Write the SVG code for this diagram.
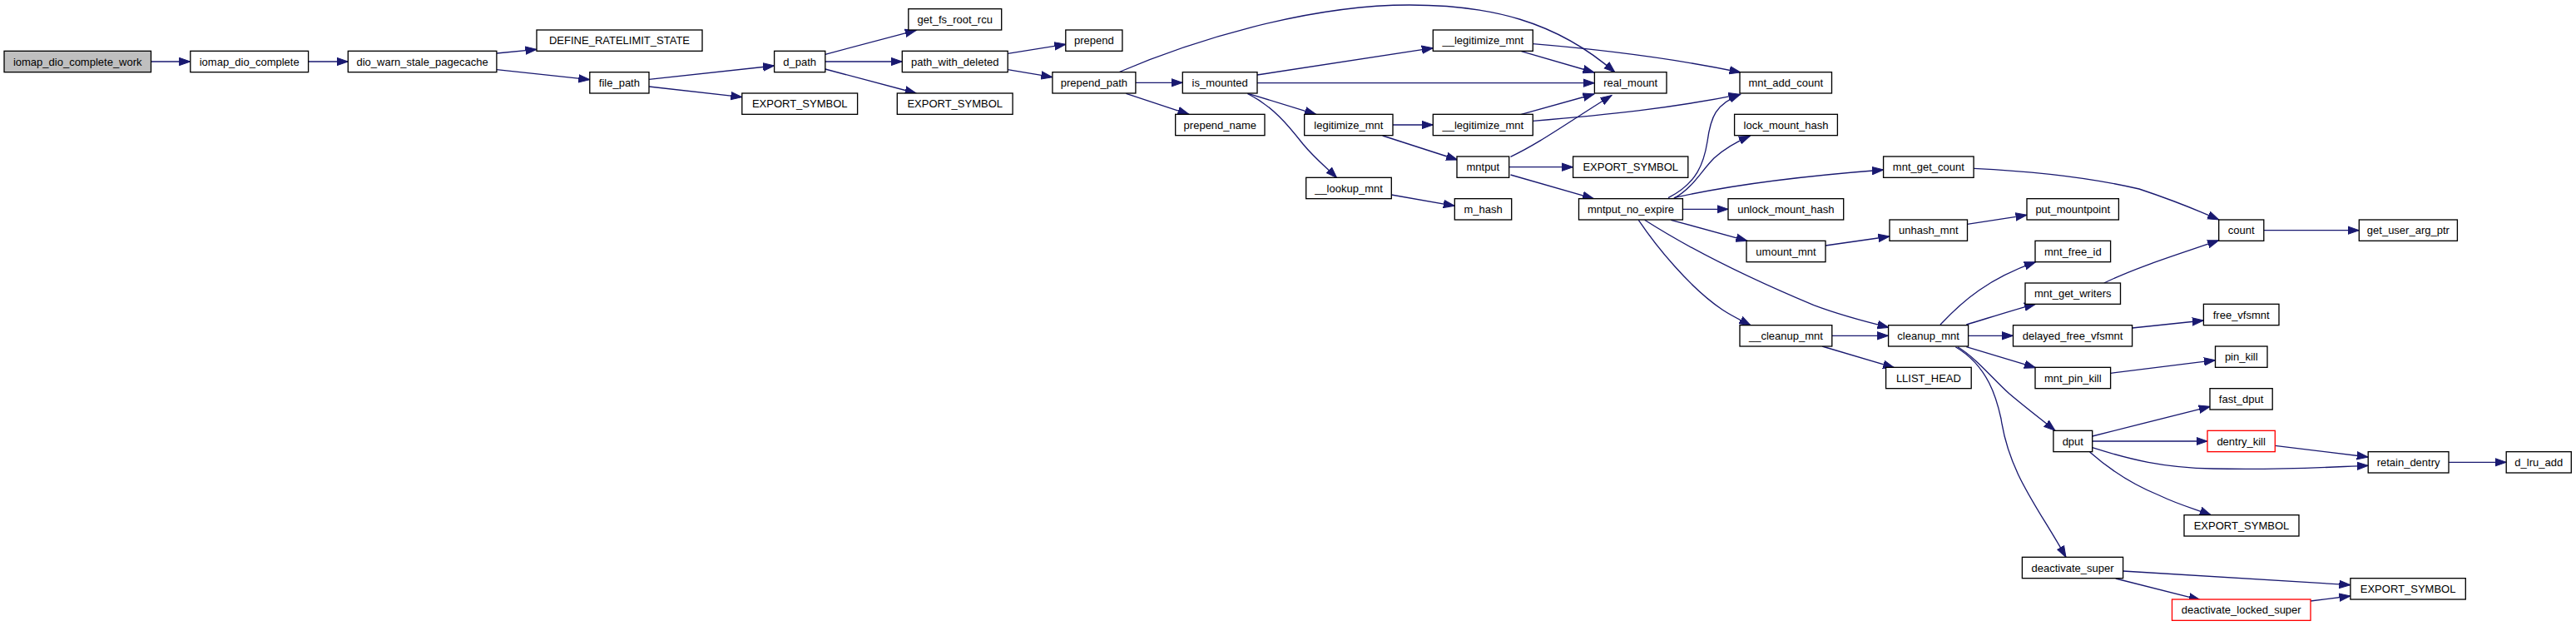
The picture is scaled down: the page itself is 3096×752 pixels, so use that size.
<svg xmlns="http://www.w3.org/2000/svg" width="3096" height="752" viewBox="0 0 3096 752">
<style>
.n rect{fill:#ffffff;stroke:#000000;stroke-width:1.33}
.n.root rect{fill:#bfbfbf}
.n.red rect{stroke:#ff0000}
.n text{font-family:"Liberation Sans",Arial,Helvetica,sans-serif;font-size:13px;fill:#000000;text-anchor:middle}
#edges path{fill:none;stroke:#191970;stroke-width:1.33;marker-end:url(#arr)}
</style>
<defs>
<marker id="arr" markerUnits="userSpaceOnUse" markerWidth="15" markerHeight="11" viewBox="0 0 15 11" refX="13.5" refY="5.5" orient="auto">
<path d="M0,0.8 L13.5,5.5 L0,10.2 z" fill="#191970" stroke="#191970" stroke-width="1"/>
</marker>
</defs>
<rect x="0" y="0" width="3096" height="752" fill="#ffffff"/>
<g id="edges">
<path d="M181.5,74 L228.8,74"/>
<path d="M370.6,74 L418.3,74"/>
<path d="M597,64 L645,59.3"/>
<path d="M597,83.7 L708.8,95.7"/>
<path d="M780,95.3 L930.6,79"/>
<path d="M780,104 L891.8,116.7"/>
<path d="M991.8,65.3 L1101.2,36.3"/>
<path d="M991.8,74 L1084.3,74"/>
<path d="M991.8,83 L1101.2,112"/>
<path d="M1211.2,64.3 L1280.8,53.3"/>
<path d="M1211.2,83.7 L1264.9,92.7"/>
<path d="M1364.9,99.3 L1421.3,99.3"/>
<path d="M1353.4,112.3 L1429,137.3"/>
<path d="M1344,87 C1430,50 1570,6 1694,6 C1790,6 1870,25 1941,87"/>
<path d="M1511,90 L1722.3,57.7"/>
<path d="M1511,99.7 L1916.4,99.7"/>
<path d="M1500,112.3 L1581.7,137.3"/>
<path d="M1499.3,112.3 C1530,128 1548,150 1566,173 C1580,190 1595,202 1606.7,213.7"/>
<path d="M1828.4,61.7 L1916,87"/>
<path d="M1842.3,52.7 C1930,60 2020,72 2092,87"/>
<path d="M1674,150 L1722.3,150"/>
<path d="M1661.7,163 L1751.7,192"/>
<path d="M1828.4,137.3 L1916,113"/>
<path d="M1842.3,145.3 C1930,138 2010,130 2091,113.3"/>
<path d="M1672.3,234 L1748.3,247.3"/>
<path d="M1815.5,188.3 C1850,172 1880,150 1937,114.5"/>
<path d="M1814,200.7 L1890.6,200.7"/>
<path d="M1815.5,210 L1915.4,238.7"/>
<path d="M2005,237.7 C2040,220 2048,195 2052,170 C2056,140 2062,125 2091.7,113.3"/>
<path d="M2013,237.7 C2035,225 2045,205 2060,190 C2075,176 2090,169 2103.3,163.3"/>
<path d="M2011.7,237.7 C2080,222 2160,212 2263.6,204"/>
<path d="M2022.4,251.3 L2077,251.3"/>
<path d="M2008.3,264.3 L2100,289.3"/>
<path d="M1969.3,264.3 C1990,295 2030,345 2070,372 C2082,380 2095,386 2104,390.7"/>
<path d="M1976.7,264.3 C2020,292 2080,325 2180,366.7 C2210,378 2240,386 2270,393.3"/>
<path d="M2194,295 L2271,284"/>
<path d="M2364.3,269.3 L2436,258.3"/>
<path d="M2372.1,202.3 C2450,206 2520,215 2571,227 C2610,240 2640,252 2666.7,264"/>
<path d="M2720.8,276.7 L2835.3,276.7"/>
<path d="M2528.8,340 C2570,320 2620,305 2666.7,288.7"/>
<path d="M2332,390 C2360,360 2390,335 2446.5,314.7"/>
<path d="M2363.3,390 C2390,382 2420,372 2446.5,365.3"/>
<path d="M2365.3,403.3 L2419.5,403.3"/>
<path d="M2562.6,394 L2648.4,385"/>
<path d="M2363.3,416.7 L2446.5,441.7"/>
<path d="M2536.6,448.3 L2662.5,432.7"/>
<path d="M2352.9,416.7 C2375,430 2395,455 2415,473 C2435,490 2455,505 2470,517.3"/>
<path d="M2350.3,416.7 C2390,440 2400,480 2405,503 C2415,570 2450,610 2483,669.3"/>
<path d="M2201.5,403.3 L2269.6,403.3"/>
<path d="M2190,416 L2276.7,441.7"/>
<path d="M2514.7,524 L2656.3,488.3"/>
<path d="M2514.7,530 L2653,530"/>
<path d="M2514.7,537.7 C2560,552 2600,562 2660,563 C2740,565 2800,561 2846.2,559.3"/>
<path d="M2734.3,535.3 L2846.2,549"/>
<path d="M2511.6,543 C2540,568 2570,585 2595,595 C2620,607 2640,612 2657.3,618.7"/>
<path d="M2943,555.3 L3012.2,555.3"/>
<path d="M2551.6,686 L2824.9,702.7"/>
<path d="M2542.8,695 L2644.3,720.7"/>
<path d="M2777,722 L2824.9,716"/>
</g>
<g id="n1" class="n root"><rect x="5" y="61.33" width="176.5" height="25.33"/><text x="93.25" y="78.6">iomap_dio_complete_work</text></g>
<g id="n2" class="n"><rect x="228.8" y="61.33" width="141.8" height="25.33"/><text x="299.7" y="78.6">iomap_dio_complete</text></g>
<g id="n3" class="n"><rect x="418.3" y="61.33" width="178.6" height="25.33"/><text x="507.6" y="78.6">dio_warn_stale_pagecache</text></g>
<g id="n4" class="n"><rect x="645" y="36" width="199" height="25.33"/><text x="744.5" y="53.3">DEFINE_RATELIMIT_STATE</text></g>
<g id="n5" class="n"><rect x="708.8" y="86.67" width="71.2" height="25.33"/><text x="744.4" y="104">file_path</text></g>
<g id="n6" class="n"><rect x="930.6" y="61.33" width="61.2" height="25.33"/><text x="961.2" y="78.6">d_path</text></g>
<g id="n7" class="n"><rect x="891.8" y="112" width="138.8" height="25.33"/><text x="961.2" y="129.3">EXPORT_SYMBOL</text></g>
<g id="n8" class="n"><rect x="1091.8" y="10.67" width="111.9" height="25.33"/><text x="1147.75" y="28">get_fs_root_rcu</text></g>
<g id="n9" class="n"><rect x="1084.3" y="61.33" width="126.9" height="25.33"/><text x="1147.75" y="78.6">path_with_deleted</text></g>
<g id="n10" class="n"><rect x="1078.3" y="112" width="138.8" height="25.33"/><text x="1147.7" y="129.3">EXPORT_SYMBOL</text></g>
<g id="n11" class="n"><rect x="1280.8" y="36" width="68.1" height="25.33"/><text x="1314.85" y="53.3">prepend</text></g>
<g id="n12" class="n"><rect x="1264.9" y="86.67" width="100" height="25.33"/><text x="1314.9" y="104">prepend_path</text></g>
<g id="n13" class="n"><rect x="1421.3" y="86.67" width="89.7" height="25.33"/><text x="1466.15" y="104">is_mounted</text></g>
<g id="n14" class="n"><rect x="1412.7" y="137.33" width="107.3" height="25.33"/><text x="1466.35" y="154.6">prepend_name</text></g>
<g id="n15" class="n"><rect x="1722.3" y="36" width="120" height="25.33"/><text x="1782.3" y="53.3">__legitimize_mnt</text></g>
<g id="n16" class="n"><rect x="1916.4" y="86.67" width="86.6" height="25.33"/><text x="1959.7" y="104">real_mount</text></g>
<g id="n17" class="n"><rect x="2091" y="86.67" width="110.5" height="25.33"/><text x="2146.25" y="104">mnt_add_count</text></g>
<g id="n18" class="n"><rect x="1567.7" y="137.33" width="106.3" height="25.33"/><text x="1620.85" y="154.6">legitimize_mnt</text></g>
<g id="n19" class="n"><rect x="1722.3" y="137.33" width="120" height="25.33"/><text x="1782.3" y="154.6">__legitimize_mnt</text></g>
<g id="n20" class="n"><rect x="2084.6" y="137.33" width="123.8" height="25.33"/><text x="2146.5" y="154.6">lock_mount_hash</text></g>
<g id="n21" class="n"><rect x="1751" y="188" width="62.7" height="25.33"/><text x="1782.35" y="205.3">mntput</text></g>
<g id="n22" class="n"><rect x="1890.6" y="188" width="138.2" height="25.33"/><text x="1959.7" y="205.3">EXPORT_SYMBOL</text></g>
<g id="n23" class="n"><rect x="2263.6" y="188" width="108.5" height="25.33"/><text x="2317.85" y="205.3">mnt_get_count</text></g>
<g id="n24" class="n"><rect x="1569.7" y="213.33" width="102.6" height="25.33"/><text x="1621" y="230.6">__lookup_mnt</text></g>
<g id="n25" class="n"><rect x="1748.3" y="238.67" width="68.4" height="25.33"/><text x="1782.5" y="256">m_hash</text></g>
<g id="n26" class="n"><rect x="1897.5" y="238.67" width="124.9" height="25.33"/><text x="1959.95" y="256">mntput_no_expire</text></g>
<g id="n27" class="n"><rect x="2077" y="238.67" width="138.7" height="25.33"/><text x="2146.35" y="256">unlock_mount_hash</text></g>
<g id="n28" class="n"><rect x="2436" y="238.67" width="110.4" height="25.33"/><text x="2491.2" y="256">put_mountpoint</text></g>
<g id="n29" class="n"><rect x="2271" y="264" width="93.5" height="25.33"/><text x="2317.75" y="281.3">unhash_mnt</text></g>
<g id="n30" class="n"><rect x="2666.7" y="264" width="54.1" height="25.33"/><text x="2693.75" y="281.3">count</text></g>
<g id="n31" class="n"><rect x="2835.3" y="264" width="118.1" height="25.33"/><text x="2894.35" y="281.3">get_user_arg_ptr</text></g>
<g id="n32" class="n"><rect x="2099" y="289.33" width="95" height="25.33"/><text x="2146.5" y="306.6">umount_mnt</text></g>
<g id="n33" class="n"><rect x="2446" y="289.33" width="90.6" height="25.33"/><text x="2491.3" y="306.6">mnt_free_id</text></g>
<g id="n34" class="n"><rect x="2434" y="340" width="114.5" height="25.33"/><text x="2491.25" y="357.3">mnt_get_writers</text></g>
<g id="n35" class="n"><rect x="2648.4" y="365.33" width="90.6" height="25.33"/><text x="2693.7" y="382.6">free_vfsmnt</text></g>
<g id="n36" class="n"><rect x="2091" y="390.67" width="110.8" height="25.33"/><text x="2146.4" y="408">__cleanup_mnt</text></g>
<g id="n37" class="n"><rect x="2269.6" y="390.67" width="96" height="25.33"/><text x="2317.6" y="408">cleanup_mnt</text></g>
<g id="n38" class="n"><rect x="2419.5" y="390.67" width="143.1" height="25.33"/><text x="2491.05" y="408">delayed_free_vfsmnt</text></g>
<g id="n39" class="n"><rect x="2662.5" y="416" width="62.5" height="25.33"/><text x="2693.75" y="433.3">pin_kill</text></g>
<g id="n40" class="n"><rect x="2266.6" y="441.33" width="102.6" height="25.33"/><text x="2317.9" y="458.6">LLIST_HEAD</text></g>
<g id="n41" class="n"><rect x="2446" y="441.33" width="90.6" height="25.33"/><text x="2491.3" y="458.6">mnt_pin_kill</text></g>
<g id="n42" class="n"><rect x="2656" y="466.67" width="75.2" height="25.33"/><text x="2693.6" y="484">fast_dput</text></g>
<g id="n43" class="n"><rect x="2467.9" y="517.33" width="46.8" height="25.33"/><text x="2491.3" y="534.6">dput</text></g>
<g id="n44" class="n red"><rect x="2653" y="517.33" width="81.3" height="25.33"/><text x="2693.65" y="534.6">dentry_kill</text></g>
<g id="n45" class="n"><rect x="2846.2" y="542.67" width="96.8" height="25.33"/><text x="2894.6" y="560">retain_dentry</text></g>
<g id="n46" class="n"><rect x="3012.2" y="542.67" width="78.1" height="25.33"/><text x="3051.25" y="560">d_lru_add</text></g>
<g id="n47" class="n"><rect x="2625" y="618.67" width="138" height="25.33"/><text x="2694" y="636">EXPORT_SYMBOL</text></g>
<g id="n48" class="n"><rect x="2430.4" y="669.33" width="121.2" height="25.33"/><text x="2491" y="686.6">deactivate_super</text></g>
<g id="n49" class="n"><rect x="2824.9" y="694.67" width="138.4" height="25.33"/><text x="2894.1" y="712">EXPORT_SYMBOL</text></g>
<g id="n50" class="n red"><rect x="2610.5" y="720" width="166.5" height="25.33"/><text x="2693.75" y="737.3">deactivate_locked_super</text></g>
</svg>
